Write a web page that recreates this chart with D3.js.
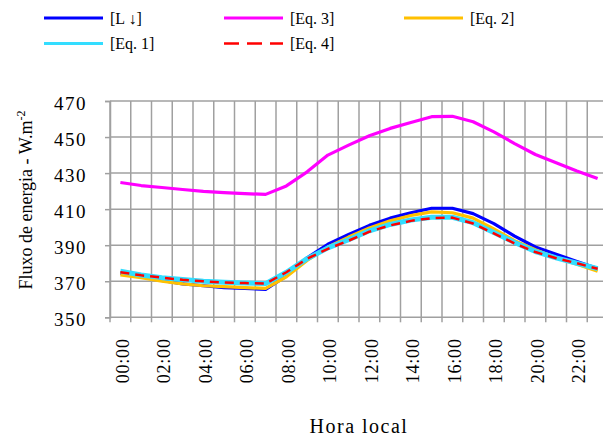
<!DOCTYPE html>
<html>
<head>
<meta charset="utf-8">
<script src="https://cdn.jsdelivr.net/npm/d3@7"></script>
<style>
  body { margin: 0; background: #fff; }
  svg text { font-family: "Liberation Serif", "DejaVu Serif", serif !important; fill: #000; }
</style>
</head>
<body>
<div id="chart"></div>
<script>
const hours = ["00:00", "01:00", "02:00", "03:00", "04:00", "05:00", "06:00", "07:00",
  "08:00", "09:00", "10:00", "11:00", "12:00", "13:00", "14:00", "15:00",
  "16:00", "17:00", "18:00", "19:00", "20:00", "21:00", "22:00", "23:00"];
const hourLabels = ["00:00", "02:00", "04:00", "06:00", "08:00", "10:00",
  "12:00", "14:00", "16:00", "18:00", "20:00", "22:00"];
const yTicks = [350, 370, 390, 410, 430, 450, 470];

const seriesNames = ["[L \u2193]", "[Eq. 3]", "[Eq. 2]", "[Eq. 1]", "[Eq. 4]"];
const valuesL = [374.5, 372.5, 370.5, 368.5, 367.5, 366.5, 366, 365.5, 373, 383, 390.5, 396,
  401, 405, 408, 410.5, 410.5, 407.5, 402, 395, 389, 385, 381, 377];
const valuesEq3 = [424.8, 423.1, 422, 420.9, 419.9, 419.2, 418.6, 418.2, 422.9, 430.7, 440, 445.5,
  450.7, 454.8, 458.1, 461.3, 461.5, 458.5, 452.9, 446.4, 440.3, 435.7, 431.2, 427];
const valuesEq2 = [373.5, 372, 370, 368.5, 367.5, 367, 366.5, 366, 372.5, 381.5, 389, 394.5,
  399.5, 403.5, 406.5, 408.5, 408, 405, 399, 392.5, 387.5, 383, 379.5, 375.5];
const valuesEq1 = [375.5, 373.5, 372, 371, 370, 369.5, 369, 368.7, 375, 382.5, 388.5, 393,
  398, 401.5, 404, 405.5, 405.5, 402.5, 397, 391.5, 386.5, 383, 380, 377];
const valuesEq4 = [375, 373.3, 372, 370.8, 370, 369.3, 369, 368.7, 375, 382.5, 388, 392.5,
  397.5, 401, 403.5, 405, 405.3, 402, 396.5, 391, 386.2, 382.8, 380, 376.9];

const seriesStyles = [
  { color: "#0000ff", width: 3.2, dash: null },
  { color: "#ff00ff", width: 3.2, dash: null },
  { color: "#ffc000", width: 3.2, dash: null },
  { color: "#33ddff", width: 5, dash: null },
  { color: "#ff0000", width: 2.5, dash: "9,6" }
];

const series = [valuesL, valuesEq3, valuesEq2, valuesEq1, valuesEq4].map((vals, i) => ({
  name: seriesNames[i],
  style: seriesStyles[i],
  points: vals.map((v, j) => ({ hour: hours[j], value: v }))
}));

const width = 611;
const height = 437;
const margin = { top: 101, right: 3, bottom: 120, left: 110 };
const grid = "#a0a0a0";
const serif = "Liberation Serif, DejaVu Serif, serif";

const svg = d3
  .select("#chart")
  .append("svg")
  .attr("width", width)
  .attr("height", height)
  .attr("font-family", serif);

const x = d3
  .scaleBand()
  .domain(hours)
  .range([margin.left, width - margin.right])
  .padding(0);

const y = d3
  .scaleLinear()
  .domain([350, 470])
  .range([height - margin.bottom + 0.3, margin.top]);

const plotBottom = y(350);

// horizontal gridlines
svg.append("g")
  .selectAll("line")
  .data(yTicks)
  .enter()
  .append("line")
  .attr("x1", margin.left)
  .attr("x2", width - 8)
  .attr("y1", (d) => y(d))
  .attr("y2", (d) => y(d))
  .attr("stroke", grid)
  .attr("stroke-width", 1.5);

// vertical gridlines + ticks at category boundaries
svg.append("g")
  .selectAll("line")
  .data(hours)
  .enter()
  .append("line")
  .attr("x1", (d) => x(d))
  .attr("x2", (d) => x(d))
  .attr("y1", y(470))
  .attr("y2", plotBottom + 5)
  .attr("stroke", grid)
  .attr("stroke-width", 1.5);

// y axis
const yAxis = d3.axisLeft(y).tickValues(yTicks).tickSize(5).tickPadding(18);
const yAxisG = svg.append("g")
  .attr("transform", `translate(${margin.left},0)`)
  .call(yAxis)
  .attr("font-family", serif);
yAxisG.select(".domain").attr("stroke", grid).attr("stroke-width", 1.5);
yAxisG.selectAll(".tick line").attr("stroke", grid).attr("stroke-width", 1.5);
yAxisG.selectAll(".tick text")
  .attr("font-size", 19)
  .attr("letter-spacing", 1.5)
  .attr("dy", "0.45em");

// x tick labels
svg.append("g")
  .selectAll("text")
  .data(hourLabels)
  .enter()
  .append("text")
  .attr("transform", (d) => `translate(${x(d) + x.bandwidth() / 2 + 2},${plotBottom + 21}) rotate(-90)`)
  .attr("text-anchor", "end")
  .attr("dy", "0.35em")
  .attr("font-size", 18)
  .attr("letter-spacing", 0.8)
  .text((d) => d);

// axis titles
svg.append("text")
  .attr("x", 359)
  .attr("y", 433)
  .attr("text-anchor", "middle")
  .attr("font-size", 20)
  .attr("letter-spacing", 1.5)
  .text("Hora local");

const yTitle = svg.append("text")
  .attr("transform", "translate(32,200) rotate(-90)")
  .attr("text-anchor", "middle")
  .attr("font-size", 18);
yTitle.append("tspan").text("Fluxo de energia - W.m");
yTitle.append("tspan").attr("font-size", 12).attr("dy", -7).text("-2");

// lines
const line = d3
  .line()
  .x((d) => x(d.hour) + x.bandwidth() / 2)
  .y((d) => y(d.value));

svg.append("g")
  .selectAll("path")
  .data(series)
  .enter()
  .append("path")
  .attr("fill", "none")
  .attr("stroke", (d) => d.style.color)
  .attr("stroke-width", (d) => d.style.width)
  .attr("stroke-dasharray", (d) => d.style.dash)
  .attr("stroke-linejoin", "round")
  .attr("d", (d) => line(d.points));

// legend
const legend = svg.append("g")
  .selectAll("g")
  .data(series)
  .enter()
  .append("g")
  .attr("transform", (d, i) => `translate(${44 + (i % 3) * 180},${18 + Math.floor(i / 3) * 25.5})`);

legend.append("line")
  .attr("x1", 0)
  .attr("x2", 59)
  .attr("stroke", (d) => d.style.color)
  .attr("stroke-width", (d) => d.style.width > 4 ? 3 : d.style.width)
  .attr("stroke-dasharray", (d) => d.style.dash ? "15,8" : null);

legend.append("text")
  .attr("x", 66)
  .attr("dy", "0.35em")
  .attr("font-size", 16)
  .text((d) => d.name);
</script>
</body>
</html>
